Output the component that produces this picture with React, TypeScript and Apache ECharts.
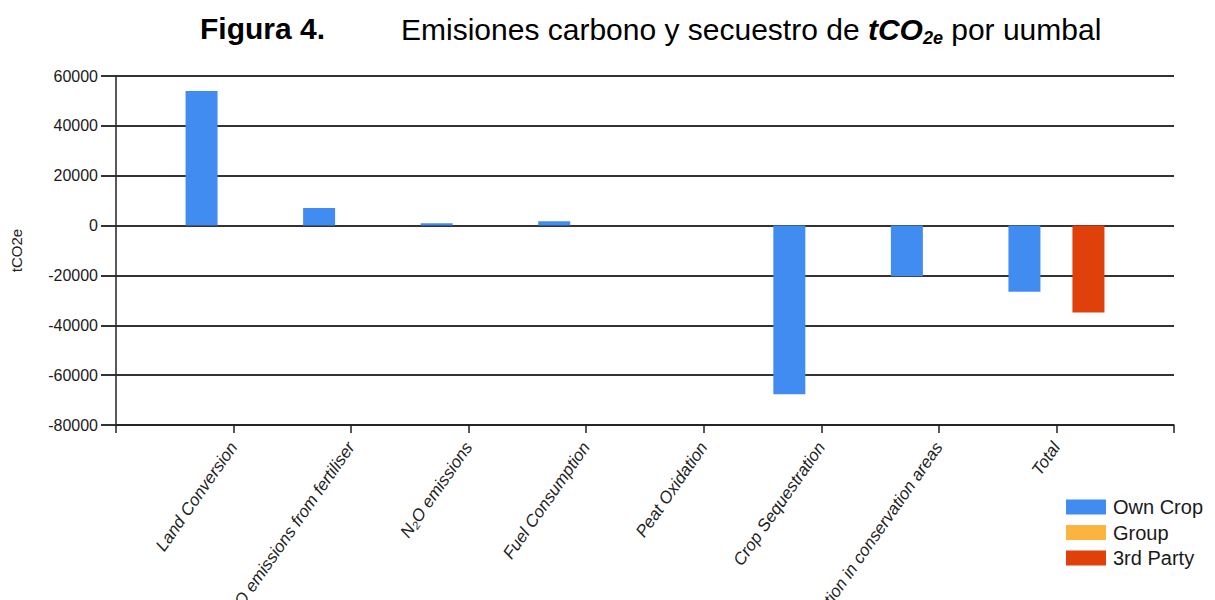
import React, { useEffect, useRef } from "react";
import * as echarts from "echarts";

// Emission sources along the x axis; the blank entries pad the axis by one band on each side.
const categories = [
  "",
  "Land Conversion",
  "N₂O emissions from fertiliser",
  "N₂O emissions",
  "Fuel Consumption",
  "Peat Oxidation",
  "Crop Sequestration",
  "Sequestration in conservation areas",
  "Total",
  "",
];

// tCO2e per source and supplier type
const ownCrop = [null, 54000, 7000, 900, 1700, 0, -67700, -20300, -26500, null];
const group = [null, 0, 0, 0, 0, 0, 0, 0, 0, null];
const thirdParty = [null, 0, 0, 0, 0, 0, 0, 0, -34900, null];

const yMin = -80000;
const yMax = 60000;
const yStep = 20000;

const COLORS = { own: "#418CF0", group: "#FCB441", third: "#E0400A" };
const FONT = "Liberation Sans, Arial, sans-serif";

export default function App() {
  const ref = useRef<HTMLDivElement>(null);

  useEffect(() => {
    document.body.style.margin = "0";
    if (!ref.current) return;
    const chart = echarts.init(ref.current, undefined, { renderer: "svg" });

    const barSeries = (name: string, data: (number | null)[], color: string) => ({
      name,
      type: "bar",
      data,
      barWidth: 32,
      barGap: "0%",
      itemStyle: { color },
    });

    chart.setOption({
      animation: false,
      backgroundColor: "#ffffff",
      textStyle: { fontFamily: FONT },
      graphic: [
        {
          type: "text",
          left: 200,
          top: 13,
          style: {
            text: "Figura 4.",
            fontFamily: FONT,
            fontSize: 30,
            fontWeight: "bold",
            fill: "#000",
          },
        },
        {
          type: "text",
          left: 401,
          top: 11,
          style: {
            text: "Emisiones carbono y secuestro de {bi|tCO}{sub|2e}{r| por uumbal}",
            fontFamily: FONT,
            fontSize: 30,
            lineHeight: 36,
            fill: "#000",
            rich: {
              bi: {
                fontFamily: FONT,
                fontSize: 30,
                lineHeight: 36,
                fontWeight: "bold",
                fontStyle: "italic",
              },
              sub: {
                fontFamily: FONT,
                fontSize: 18,
                lineHeight: 22,
                fontWeight: "bold",
                fontStyle: "italic",
                verticalAlign: "bottom",
              },
              r: {
                fontFamily: FONT,
                fontSize: 30,
                lineHeight: 36,
              },
            },
          },
        },
      ],
      legend: {
        orient: "vertical",
        left: 1061,
        top: 492,
        itemWidth: 40,
        itemHeight: 15,
        itemGap: 5.5,
        icon: "rect",
        textStyle: {
          fontFamily: FONT,
          fontSize: 20,
          lineHeight: 20,
          color: "#1a1a1a",
          padding: [0, 0, 0, 2],
        },
        data: ["Own Crop", "Group", "3rd Party"],
      },
      grid: {
        left: 116,
        right: 41,
        top: 76,
        bottom: 175,
        containLabel: false,
        outerBoundsMode: "none",
      },
      xAxis: {
        type: "category",
        data: categories,
        boundaryGap: false,
        axisLine: { show: true, onZero: false, lineStyle: { color: "#222", width: 1.5 } },
        axisTick: { show: true, length: 8, lineStyle: { color: "#222", width: 1.5 } },
        axisLabel: {
          interval: 0,
          rotate: 55,
          margin: 19,
          fontFamily: FONT,
          fontStyle: "italic",
          fontSize: 17,
          color: "#222",
        },
        splitLine: { show: false },
      },
      yAxis: {
        type: "value",
        min: yMin,
        max: yMax,
        interval: yStep,
        name: "tCO2e",
        nameLocation: "middle",
        nameGap: 92,
        nameRotate: 90,
        nameTextStyle: { fontFamily: FONT, fontSize: 15, color: "#222" },
        axisLine: { show: true, lineStyle: { color: "#222", width: 1.5 } },
        axisTick: { show: true, length: 15, lineStyle: { color: "#333", width: 2 } },
        axisLabel: {
          margin: 18,
          fontFamily: FONT,
          fontSize: 16,
          color: "#1a1a1a",
          formatter: (v: number) => String(v),
        },
        splitLine: { show: true, lineStyle: { color: "#333", width: 2 } },
      },
      series: [
        barSeries("Own Crop", ownCrop, COLORS.own),
        barSeries("Group", group, COLORS.group),
        barSeries("3rd Party", thirdParty, COLORS.third),
      ],
    });

    return () => chart.dispose();
  }, []);

  return <div ref={ref} style={{ width: 1215, height: 600 }} />;
}
